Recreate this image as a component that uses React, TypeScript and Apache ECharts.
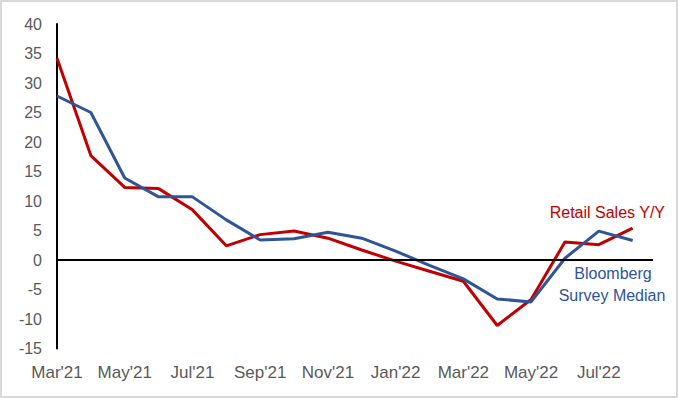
import React, { useEffect, useRef } from "react";
import * as echarts from "echarts";

const months = [
  "Mar'21", "Apr'21", "May'21", "Jun'21", "Jul'21", "Aug'21", "Sep'21", "Oct'21", "Nov'21",
  "Dec'21", "Jan'22", "Feb'22", "Mar'22", "Apr'22", "May'22", "Jun'22", "Jul'22", "Aug'22",
];
const retailSales = [34.2, 17.7, 12.3, 12.1, 8.5, 2.4, 4.3, 4.9, 3.7, 1.7, -0.2, -1.9, -3.6, -11.1, -6.7, 3.05, 2.6, 5.4];
const surveyMedian = [27.8, 25.0, 13.9, 10.7, 10.7, 6.8, 3.4, 3.6, 4.7, 3.7, 1.5, -0.9, -3.2, -6.6, -7.1, 0.3, 4.9, 3.3];
const yTicks = { min: -15, max: 40, step: 5 };

const FONT = "'Liberation Sans', Arial, sans-serif";
const GRAY = "#595959";
const RED = "#C00000";
const BLUE = "#2F5597";

export default function App() {
  const ref = useRef<HTMLDivElement>(null);
  useEffect(() => {
    document.body.style.margin = "0";
    const chart = echarts.init(ref.current!, null, { renderer: "svg" });
    const toPairs = (arr: number[]) => arr.map((v, i) => [i, v]);
    chart.setOption({
      animation: false,
      backgroundColor: "#ffffff",
      grid: { left: 57, right: 25, top: 24, bottom: 49.5 },
      xAxis: {
        type: "value",
        min: 0,
        max: 17.6,
        interval: 2,
        axisLine: { show: false, onZero: false },
        axisTick: { show: false },
        splitLine: { show: false },
        axisLabel: {
          color: GRAY,
          fontFamily: FONT,
          fontSize: 17,
          margin: 15,
          formatter: (v: number) => (Number.isInteger(v) && months[v] ? months[v] : ""),
        },
      },
      yAxis: {
        type: "value",
        min: yTicks.min,
        max: yTicks.max,
        interval: yTicks.step,
        axisLine: { show: true, onZero: false, lineStyle: { color: "#000", width: 2 } },
        axisTick: { show: false },
        splitLine: { show: false },
        axisLabel: { color: GRAY, fontFamily: FONT, fontSize: 16, margin: 15 },
      },
      series: [
        {
          name: "Retail Sales Y/Y",
          type: "line",
          data: toPairs(retailSales),
          showSymbol: false,
          symbol: "none",
          lineStyle: { color: RED, width: 3 },
          z: 3,
          markLine: {
            silent: true,
            symbol: "none",
            label: { show: false },
            lineStyle: { color: "#000", width: 2, type: "solid" },
            data: [{ yAxis: 0 }],
          },
        },
        {
          name: "Bloomberg Survey Median",
          type: "line",
          data: toPairs(surveyMedian),
          showSymbol: false,
          symbol: "none",
          lineStyle: { color: BLUE, width: 3 },
          z: 4,
        },
      ],
      graphic: [
        {
          type: "rect",
          shape: { x: 1, y: 1, width: 676, height: 396 },
          style: { fill: "none", stroke: "#D9D9D9", lineWidth: 2 },
          silent: true,
        },
        {
          type: "text",
          x: 665,
          y: 212,
          style: {
            text: "Retail Sales Y/Y",
            fill: RED,
            font: `16px ${FONT}`,
            textAlign: "right",
            textVerticalAlign: "middle",
            align: "right",
            verticalAlign: "middle",
          },
        },
        {
          type: "text",
          x: 613,
          y: 273,
          style: {
            text: "Bloomberg",
            fill: BLUE,
            font: `16px ${FONT}`,
            textAlign: "center",
            textVerticalAlign: "middle",
            align: "center",
            verticalAlign: "middle",
          },
        },
        {
          type: "text",
          x: 612,
          y: 295,
          style: {
            text: "Survey Median",
            fill: BLUE,
            font: `16px ${FONT}`,
            textAlign: "center",
            textVerticalAlign: "middle",
            align: "center",
            verticalAlign: "middle",
          },
        },
      ],
    });
    return () => chart.dispose();
  }, []);
  return (
    <div
      ref={ref}
      style={{ position: "absolute", left: 0, top: 0, width: 678, height: 398 }}
    />
  );
}
